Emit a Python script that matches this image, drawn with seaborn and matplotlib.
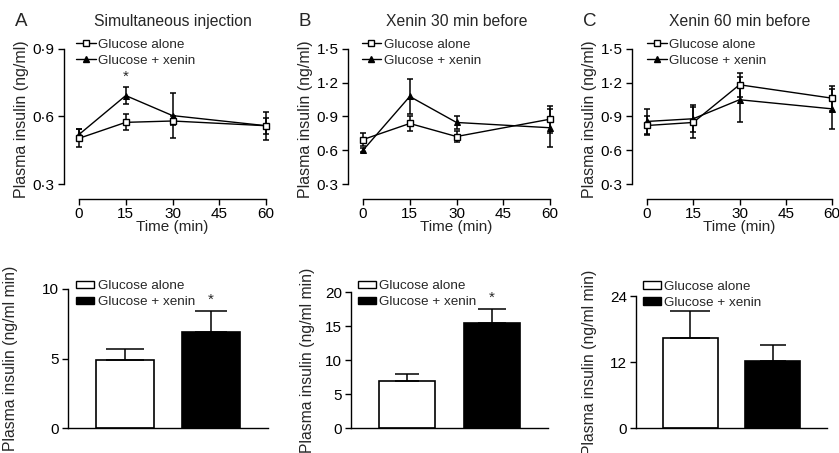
import numpy as np
import pandas as pd
import seaborn as sns
import matplotlib.pyplot as plt
from matplotlib.lines import Line2D
from matplotlib.patches import Patch
from matplotlib.ticker import FuncFormatter

# time-course data (mean, SEM)
times = [0, 15, 30, 60]
simul_alone = [0.503, 0.574, 0.580, 0.559]
simul_alone_sem = [0.040, 0.035, 0.020, 0.035]
simul_xenin = [0.520, 0.693, 0.604, 0.559]
simul_xenin_sem = [0.025, 0.036, 0.100, 0.062]
pre30_alone = [0.695, 0.838, 0.722, 0.876]
pre30_alone_sem = [0.060, 0.063, 0.050, 0.120]
pre30_xenin = [0.600, 1.078, 0.847, 0.800]
pre30_xenin_sem = [0.020, 0.157, 0.060, 0.170]
pre60_alone = [0.820, 0.847, 1.182, 1.063]
pre60_alone_sem = [0.085, 0.140, 0.105, 0.110]
pre60_xenin = [0.856, 0.880, 1.049, 0.968]
pre60_xenin_sem = [0.110, 0.120, 0.200, 0.180]

# AUC bars
groups = ['Glucose alone', 'Glucose + xenin']
auc_simul = [4.87, 6.90]
auc_simul_sem = [0.84, 1.49]
auc_pre30 = [6.86, 15.44]
auc_pre30_sem = [1.08, 2.10]
auc_pre60 = [16.28, 12.12]
auc_pre60_sem = [5.07, 2.96]

titles = ['Simultaneous injection', 'Xenin 30 min before', 'Xenin 60 min before']
letters = ['A', 'B', 'C']
line_yticks = [[0.3, 0.6, 0.9], [0.3, 0.6, 0.9, 1.2, 1.5], [0.3, 0.6, 0.9, 1.2, 1.5]]
bar_yticks = [[0, 5, 10], [0, 5, 10, 15, 20], [0, 12, 24]]

sns.set_style('ticks')
plt.rcParams['font.family'] = ['Liberation Sans', 'DejaVu Sans']
plt.rcParams['font.size'] = 11
plt.rcParams['axes.linewidth'] = 1.0
plt.rcParams['xtick.major.width'] = 1.0
plt.rcParams['ytick.major.width'] = 1.0
plt.rcParams['xtick.major.size'] = 4
plt.rcParams['ytick.major.size'] = 4
plt.rcParams['xtick.color'] = 'black'
plt.rcParams['ytick.color'] = 'black'
plt.rcParams['axes.edgecolor'] = 'black'

W, H = 839, 453
fig = plt.figure(figsize=(W / 100, H / 100), dpi=100)

def px_axes(left, right, top, bottom):
    return fig.add_axes([left / W, (H - bottom) / H, (right - left) / W, (bottom - top) / H])

dot = FuncFormatter(lambda v, p: f'{v:.1f}'.replace('.', '\u00b7'))

line_data = [
    (simul_alone, simul_alone_sem, simul_xenin, simul_xenin_sem),
    (pre30_alone, pre30_alone_sem, pre30_xenin, pre30_xenin_sem),
    (pre60_alone, pre60_alone_sem, pre60_xenin, pre60_xenin_sem),
]
line_boxes = [(79, 266), (363, 550), (647, 832)]
leg_x = [-0.016, -0.007, 0.0]

for i, (a, a_sem, x, x_sem) in enumerate(line_data):
    l, r = line_boxes[i]
    ax = px_axes(l, r, 49, 184)
    df = pd.DataFrame({'time': times * 2, 'insulin': a + x,
                       'group': ['Glucose alone'] * 4 + ['Glucose + xenin'] * 4})
    ax.errorbar(times, a, yerr=a_sem, fmt='none', ecolor='black', elinewidth=1.1,
                capsize=2.3, capthick=1.1, clip_on=False, zorder=2)
    ax.errorbar(times, x, yerr=x_sem, fmt='none', ecolor='black', elinewidth=1.1,
                capsize=2.3, capthick=1.1, clip_on=False, zorder=2)
    sns.lineplot(data=df[df.group == 'Glucose + xenin'], x='time', y='insulin', ax=ax,
                 color='black', marker='^', markersize=4.5, markeredgecolor='black',
                 linewidth=1.0, clip_on=False, zorder=3)
    sns.lineplot(data=df[df.group == 'Glucose alone'], x='time', y='insulin', ax=ax,
                 color='black', marker='s', markersize=4.3, markerfacecolor='white',
                 markeredgecolor='black', markeredgewidth=1.0, linewidth=1.0,
                 clip_on=False, zorder=4)
    yt = line_yticks[i]
    ax.set_xlim(0, 60)
    ax.set_ylim(yt[0], yt[-1])
    ax.set_xticks([0, 15, 30, 45, 60])
    ax.set_yticks(yt)
    ax.yaxis.set_major_formatter(dot)
    ax.set_xlabel('')
    ax.set_ylabel('')
    sns.despine(ax=ax, offset=11)
    ax.tick_params(axis='y', labelsize=11, pad=2.5)
    ax.tick_params(axis='x', labelsize=11, pad=1.5)
    ax.text(0.5, -0.315, 'Time (min)', transform=ax.transAxes, ha='center', va='center', fontsize=11)
    ax.text(-0.31, 0.48, 'Plasma insulin (ng/ml)', transform=ax.transAxes, rotation=90,
            ha='center', va='center', fontsize=11.5)
    ax.text(0.5, 1.2, titles[i], transform=ax.transAxes, ha='center', va='center', fontsize=11.3)
    ax.text(-0.31, 1.2, letters[i], transform=ax.transAxes, ha='center', va='center', fontsize=13.5)
    handles = [Line2D([], [], color='black', lw=1.0, marker='s', ms=4.3, mfc='white', mec='black'),
               Line2D([], [], color='black', lw=1.0, marker='^', ms=4.5, mfc='black', mec='black')]
    ax.legend(handles, groups, loc='upper left', bbox_to_anchor=(leg_x[i], 1.08), frameon=False,
              fontsize=9.7, handlelength=1.45, handletextpad=0.2, labelspacing=0.3,
              borderpad=0, borderaxespad=0)
    if i == 0:
        ax.text(15, 0.745, '*', ha='center', va='bottom', fontsize=11)

bar_data = [(auc_simul, auc_simul_sem), (auc_pre30, auc_pre30_sem), (auc_pre60, auc_pre60_sem)]
bar_boxes = [(68, 268, 289), (351, 548, 292), (636, 827, 296)]
bar_leg = [(0.04, 1.065), (0.034, 1.085), (0.035, 1.115)]
bar_lab_x = [-0.285, -0.22, -0.245]
caps = [[13.7, 11.2], [8.6, 10.4], [14.4, 9.7]]
stars = [True, True, False]

for i, (vals, sems) in enumerate(bar_data):
    l, r, t = bar_boxes[i]
    ax = px_axes(l, r, t, 428)
    sns.barplot(x=groups, y=vals, hue=groups, palette=['white', 'black'], ax=ax,
                edgecolor='black', linewidth=1.2, width=0.67, legend=False)
    for j in range(2):
        ax.errorbar([j], [vals[j]], yerr=[[0], [sems[j]]], fmt='none', ecolor='black',
                    elinewidth=1.1, capsize=caps[i][j], capthick=1.1, clip_on=False, zorder=1)
    yt = bar_yticks[i]
    ax.set_xlim(-0.66, 1.66)
    ax.set_ylim(0, yt[-1])
    ax.set_yticks(yt)
    ax.set_xticks([])
    ax.set_xlabel('')
    ax.set_ylabel('')
    sns.despine(ax=ax)
    ax.tick_params(labelsize=11, pad=2.5)
    ax.text(bar_lab_x[i], 0.5, 'Plasma insulin (ng/ml min)', transform=ax.transAxes, rotation=90,
            ha='center', va='center', fontsize=11.3)
    handles = [Patch(facecolor='white', edgecolor='black', linewidth=1.0),
               Patch(facecolor='black', edgecolor='black', linewidth=1.0)]
    ax.legend(handles, groups, loc='upper left', bbox_to_anchor=bar_leg[i], frameon=False,
              fontsize=9.7, handlelength=1.35, handleheight=0.45, handletextpad=0.25,
              labelspacing=0.3, borderpad=0, borderaxespad=0)
    if stars[i]:
        ax.text(1, vals[1] + sems[1] + yt[-1] * 0.03, '*', ha='center', va='bottom', fontsize=11)

fig.savefig('out.png', dpi=100)
